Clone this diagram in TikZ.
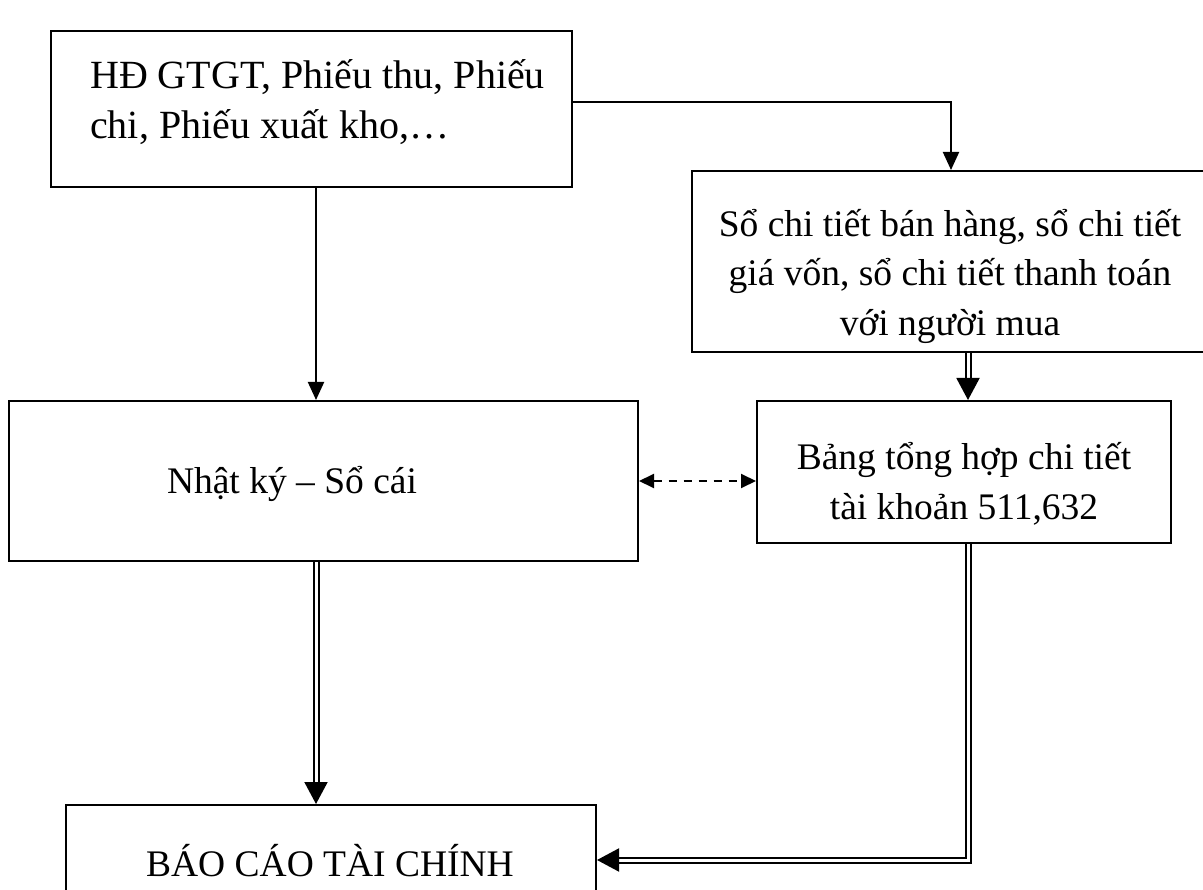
\documentclass[tikz,border=0pt]{standalone}
\usepackage{fontspec}
\setmainfont{Liberation Serif}
\usetikzlibrary{arrows.meta,calc}

\begin{document}
\begin{tikzpicture}[x=1pt,y=-1pt,
  box/.style={draw,line width=2pt,rectangle,inner sep=0pt},
  txt/.style={inner sep=0pt,font=\fontsize{37.5}{49.5}\selectfont},
  bigtxt/.style={inner sep=0pt,font=\fontsize{40}{50}\selectfont},
  flow/.style={line width=2pt,-{Triangle[length=18pt,width=16pt]}},
  dflow/.style={line width=2pt,double,double distance=3pt,-{Triangle[length=22pt,width=23pt]}},
  link/.style={line width=2pt,dash pattern=on 8pt off 7pt,{Triangle[length=15pt,width=14pt]}-{Triangle[length=15pt,width=14pt]}}]

\useasboundingbox (0,0) rectangle (1203,890);

% boxes
\node[box,minimum width=521pt,minimum height=156pt] (b1) at (311.5,109) {};
\node[box,minimum width=518pt,minimum height=181pt] (b2) at (951,261.5) {};
\node[box,minimum width=629pt,minimum height=160pt] (b3) at (323.5,481) {};
\node[box,minimum width=414pt,minimum height=142pt] (b4) at (964,472) {};
\node[box,minimum width=530pt,minimum height=110pt] (b5) at (331,860) {};

% texts
\node[bigtxt,anchor=west,align=left] (t1) at (90,102) {HĐ GTGT, Phiếu thu, Phiếu\\chi, Phiếu xuất kho,…};
\node[txt,align=center] (t2) at (950,276) {Sổ chi tiết bán hàng, sổ chi tiết\\giá vốn, sổ chi tiết thanh toán\\với người mua};
\node[txt] (t3) at (292,484) {Nhật ký – Sổ cái};
\node[txt,align=center] (t4) at (964,484) {Bảng tổng hợp chi tiết\\tài khoản 511,632};
\node[txt] (t5) at (330,861) {BÁO CÁO TÀI CHÍNH};

% connectors
\coordinate (c1) at ($(b1.east)+(0,-7)$);
\coordinate (c2) at ($(b1.south)+(4.5,0)$);
\coordinate (c3) at ($(b3.south)+(-7.5,0)$);
\coordinate (c4) at ($(b4.south)+(4,0)$);

\draw[flow] (c1) -| (b2.north);
\draw[flow] (c2) -- (c2 |- b3.north);
\draw[dflow] ($(b2.south)+(17,0)$) -- ($(b4.north)+(4,0)$);
\draw[link] (b3.east) -- (b3.east -| b4.west);
\draw[dflow] (c3) -- (c3 |- b5.north);
\draw[dflow] (c4) |- (b5.east);
\end{tikzpicture}
\end{document}
